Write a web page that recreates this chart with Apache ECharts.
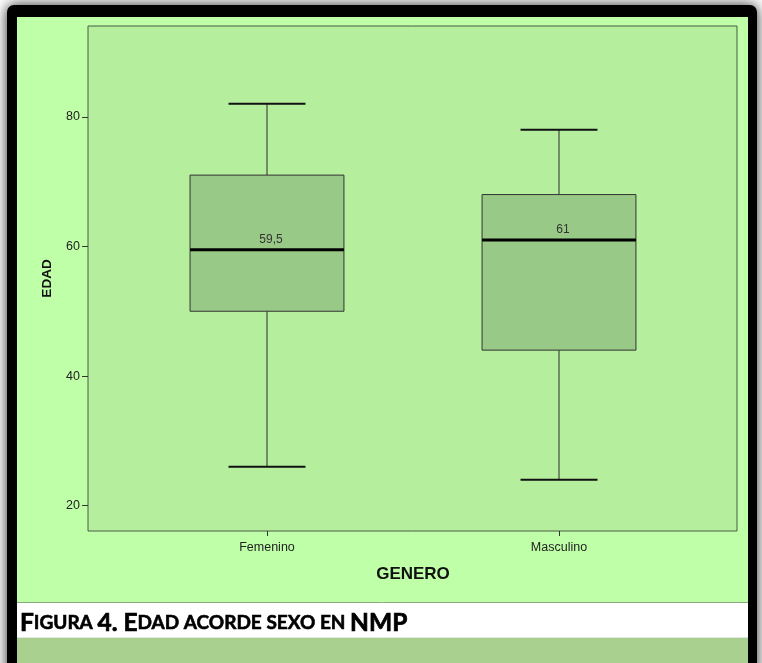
<!DOCTYPE html>
<html><head><meta charset="utf-8">
<script src="https://cdn.jsdelivr.net/npm/echarts@6/dist/echarts.min.js"></script>
<style>html,body{margin:0;padding:0;background:#fff}#chart{width:762px;height:663px}</style>
</head><body><div id="chart"></div>
<script>
// Age by gender: box summary per category
const categories = ['Femenino', 'Masculino'];
const whiskerLow = [26, 24];
const quartile1 = [50, 44];
const medians = [59.5, 61];
const quartile3 = [71, 68];
const whiskerHigh = [82, 78];
const medianLabels = ['59,5', '61'];
const yTicks = [20, 40, 60, 80];
const yMin = 16.1, yMax = 94;

const boxData = categories.map((c, i) =>
  [i, whiskerLow[i], quartile1[i], medians[i], quartile3[i], whiskerHigh[i]]);

const FONT = '"Liberation Sans", Arial, sans-serif';
const chart = echarts.init(document.getElementById('chart'), null, { renderer: 'canvas' });

function renderBox(params, api) {
  const idx = params.dataIndex;
  const xi = api.value(0);
  const band = api.size([1, 0])[0];
  const bw = band * 0.527;
  const capW = bw / 2;
  const cx = api.coord([xi, 0])[0];
  const py = v => api.coord([xi, v])[1];
  const yl = py(api.value(1)), yq1 = py(api.value(2)), ym = py(api.value(3)),
        yq3 = py(api.value(4)), yh = py(api.value(5));
  const stem = { stroke: '#2a2a2a', lineWidth: 1 };
  const cap = { stroke: '#111', lineWidth: 2 };
  return {
    type: 'group',
    children: [
      { type: 'line', shape: { x1: cx, y1: yh, x2: cx, y2: yq3 }, style: stem },
      { type: 'line', shape: { x1: cx, y1: yq1, x2: cx, y2: yl }, style: stem },
      { type: 'line', shape: { x1: cx - capW / 2, y1: yh, x2: cx + capW / 2, y2: yh }, style: cap },
      { type: 'line', shape: { x1: cx - capW / 2, y1: yl, x2: cx + capW / 2, y2: yl }, style: cap },
      { type: 'rect', shape: { x: cx - bw / 2, y: yq3, width: bw, height: yq1 - yq3 },
        style: { fill: '#99c986', stroke: '#333', lineWidth: 1 } },
      { type: 'line', shape: { x1: cx - bw / 2, y1: ym, x2: cx + bw / 2, y2: ym },
        style: { stroke: '#000', lineWidth: 3 } },
      { type: 'text', style: { text: medianLabels[idx], x: cx + 4, y: ym - 4,
        align: 'center', verticalAlign: 'bottom', font: '12px ' + FONT, fill: '#333' } }
    ]
  };
}

const option = {
  animation: false,
  graphic: [
    { type: 'rect', z: -100, shape: { x: 7, y: 5, width: 750, height: 700, r: [7, 7, 0, 0] },
      style: { fill: '#000', shadowBlur: 14, shadowColor: 'rgba(0,0,0,0.85)' } },
    { type: 'rect', z: -99, shape: { x: 17, y: 17, width: 731, height: 585 },
      style: { fill: '#bfffa8' } },
    { type: 'rect', z: -99, shape: { x: 17, y: 602, width: 731, height: 36 },
      style: { fill: '#ffffff' } },
    { type: 'line', z: -98, shape: { x1: 17, y1: 602.5, x2: 748, y2: 602.5 },
      style: { stroke: '#8aa880', lineWidth: 1 } },
    { type: 'rect', z: -99, shape: { x: 17, y: 638, width: 731, height: 30 },
      style: { fill: '#a9d08e' } },
    { type: 'line', z: -98, shape: { x1: 17, y1: 637.5, x2: 748, y2: 637.5 },
      style: { stroke: '#e2e6e0', lineWidth: 1 } },
    { type: 'text', z: -97, x: 20, y: 623,
      style: {
        text: '{b|F}{s|IGURA }{b|4. E}{s|DAD ACORDE SEXO EN }{b|NMP}',
        verticalAlign: 'middle',
        rich: {
          b: { fontFamily: 'Lato, "Open Sans", sans-serif', fontWeight: 'bold', fontSize: 24.5,
               fill: '#000', stroke: '#000', lineWidth: 0.7 },
          s: { fontFamily: 'Lato, "Open Sans", sans-serif', fontWeight: 'bold', fontSize: 19,
               fill: '#000', stroke: '#000', lineWidth: 0.6 }
        }
      } }
  ],
  grid: [
    { left: 88, right: 25, top: 26, bottom: 132, show: true,
      backgroundColor: '#b5ef9e', borderColor: '#4a5a45', borderWidth: 1 },
    { left: 121, right: 57, top: 26, bottom: 132 }
  ],
  xAxis: [
    { gridIndex: 0, type: 'value', show: false, min: 0, max: 1 },
    { gridIndex: 1, type: 'category', data: categories,
      axisLine: { show: false },
      axisTick: { show: true, alignWithLabel: true, length: 5, lineStyle: { color: '#333' } },
      axisLabel: { fontFamily: FONT, fontSize: 12.5, color: '#222', margin: 10 },
      name: 'GENERO', nameLocation: 'middle', nameGap: 35,
      nameTextStyle: { fontFamily: FONT, fontSize: 17, fontWeight: 'bold', color: '#111' } }
  ],
  yAxis: [
    { gridIndex: 0, type: 'value', min: yMin, max: yMax,
      axisLine: { show: false },
      splitLine: { show: false },
      axisTick: { show: true, length: 6, customValues: yTicks, lineStyle: { color: '#333' } },
      axisLabel: { fontFamily: FONT, fontSize: 12.5, color: '#222', margin: 8, customValues: yTicks },
      name: 'EDAD', nameLocation: 'middle', nameGap: 34,
      nameTextStyle: { fontFamily: FONT, fontSize: 13.5, fontWeight: 'bold', color: '#111' } },
    { gridIndex: 1, type: 'value', min: yMin, max: yMax, show: false }
  ],
  series: [{
    type: 'custom',
    xAxisIndex: 1, yAxisIndex: 1,
    renderItem: renderBox,
    encode: { x: 0, y: [1, 2, 3, 4, 5] },
    data: boxData
  }]
};
chart.setOption(option);
</script>
</body></html>
